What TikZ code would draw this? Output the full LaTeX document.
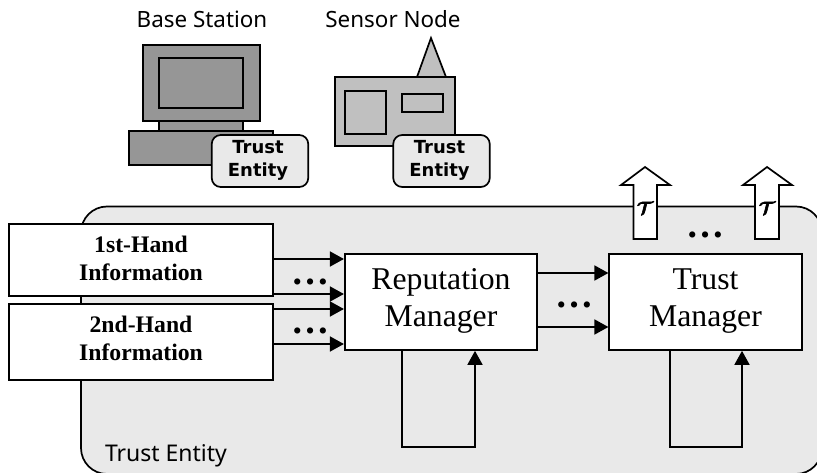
\documentclass[tikz,border=0pt]{standalone}
\usepackage{fontspec}
\setmainfont{Liberation Serif}
\newfontfamily\uifont{Noto Sans}
\newfontfamily\badgefont{DejaVu Sans}
\usetikzlibrary{arrows.meta}
\definecolor{entitygray}{HTML}{E9E9E9}
\definecolor{pcgray}{HTML}{969696}
\definecolor{sensorgray}{HTML}{C0C0C0}
\newcommand{\depthrule}[1]{\rule[-#1pt]{0pt}{#1pt}}
\newcommand{\padr}{\rule{4pt}{0pt}}
\newcommand{\heavy}[1]{\special{pdf:code q 2 Tr 0.35 w}#1\special{pdf:code Q}}
\tikzset{
  lw/.style={line width=1.7pt},
  part/.style={draw=black,line width=1.7pt,inner sep=0pt},
  infobox/.style={part,fill=white,align=center,font=\fontsize{23.7}{28}\selectfont\bfseries,minimum width=264pt},
  manager/.style={part,fill=white,align=center,font=\fontsize{31.7}{37}\selectfont,minimum width=192.5pt,minimum height=96pt},
  badge/.style={part,fill=entitygray,rounded corners=9pt,align=center,font=\fontsize{18}{23}\selectfont\badgefont\bfseries,minimum width=96.5pt,minimum height=52pt},
  caption/.style={inner sep=0pt,anchor=base,font=\fontsize{22.4}{27}\selectfont\uifont},
  entcaption/.style={inner sep=0pt,anchor=base,font=\fontsize{23}{27}\selectfont\uifont},
  dotsnode/.style={inner sep=0pt,anchor=base,font=\fontsize{38}{40}\selectfont\bfseries},
  arr/.style={lw,-{Triangle[length=14pt,width=15pt]}},
  tlabel/.style={inner sep=0pt,scale=1.8},
  uparrow/.style={draw=black,line width=1.7pt,fill=white,line join=miter},
}
\begin{document}
\begin{tikzpicture}[x=1pt,y=-1pt]
\useasboundingbox (0,0) rectangle (817,473);
\begin{scope}
\clip (0,0) rectangle (817,473);
% container
\draw[lw,fill=entitygray,rounded corners=26pt] (81,206.5) rectangle (822,474);
\node[entcaption] (entlabel) at (166,461) {Trust Entity};

% captions
\node[caption] (bslabel) at (202,28) {Base Station};
\node[caption] (snlabel) at (393,28) {Sensor Node};

% base station
\draw[part,fill=pcgray] (159,121) rectangle (243,131);
\draw[part,fill=pcgray] (143,45) rectangle (260,121);
\draw[part,fill=pcgray] (159,58) rectangle (243,108);
\draw[part,fill=pcgray] (129,131) rectangle (273,165);
\node[badge] (badgeA) at (260,161) {Trust\padr\\Entity\padr\depthrule{5}};

% sensor node
\draw[part,fill=sensorgray] (417,77) -- (431,38) -- (446,77) -- cycle;
\draw[part,fill=sensorgray] (335,77) rectangle (455,146);
\draw[part,fill=sensorgray] (345,91) rectangle (386,134);
\draw[part,fill=sensorgray] (402,94) rectangle (443,112);
\node[badge] (badgeB) at (441.5,161) {Trust\padr\\Entity\padr\depthrule{5}};

% boxes
\node[infobox,minimum height=72.5pt] (first) at (141,260) {1st-Hand\\Information\depthrule{4}};
\node[infobox,minimum height=76pt] (second) at (141,342) {2nd-Hand\\Information\depthrule{8}};
\node[manager] (rep) at (441,302) {Reputation\\Manager\depthrule{9}};
\node[manager] (tm) at (705.5,302) {Trust\\Manager\depthrule{9}};

% connector rows
\coordinate (ya) at (0,259);
\coordinate (yb) at (0,294);
\coordinate (yc) at (0,309);
\coordinate (yd) at (0,344);
\coordinate (ye) at (0,273);
\coordinate (yf) at (0,327);
\coordinate (yl) at (0,447);
\coordinate (xa) at (402,0);
\coordinate (xb) at (475,0);
\coordinate (xc) at (670,0);
\coordinate (xd) at (742,0);

\draw[arr] (first.east |- ya) -- (rep.west |- ya);
\draw[arr] (first.east |- yb) -- (rep.west |- yb);
\draw[arr] (second.east |- yc) -- (rep.west |- yc);
\draw[arr] (second.east |- yd) -- (rep.west |- yd);
\draw[arr] (rep.east |- ye) -- (tm.west |- ye);
\draw[arr] (rep.east |- yf) -- (tm.west |- yf);
\draw[arr] (rep.south -| xa) -- (xa |- yl) -- (xb |- yl) -- (rep.south -| xb);
\draw[arr] (tm.south -| xc) -- (xc |- yl) -- (xd |- yl) -- (tm.south -| xd);

% dots
\node[dotsnode] (d1) at (310,284) {…};
\node[dotsnode] (d2) at (310,334) {…};
\node[dotsnode] (d3) at (574.5,307) {…};
\node[dotsnode] (d4) at (705,238) {…};

% output arrows
\draw[uparrow] (633.5,239) -- (633.5,185) -- (621,185) -- (645,167) -- (670,185) -- (657,185) -- (657,239) -- cycle;
\draw[uparrow] (755,239) -- (755,185) -- (743,185) -- (767,167) -- (792,185) -- (779,185) -- (779,239) -- cycle;
\node[tlabel] (t1) at (645,208) {{\boldmath\heavy{$\mathcal{T}$}}};
\node[tlabel] (t2) at (767,208) {{\boldmath\heavy{$\mathcal{T}$}}};
\end{scope}
\end{tikzpicture}
\end{document}
